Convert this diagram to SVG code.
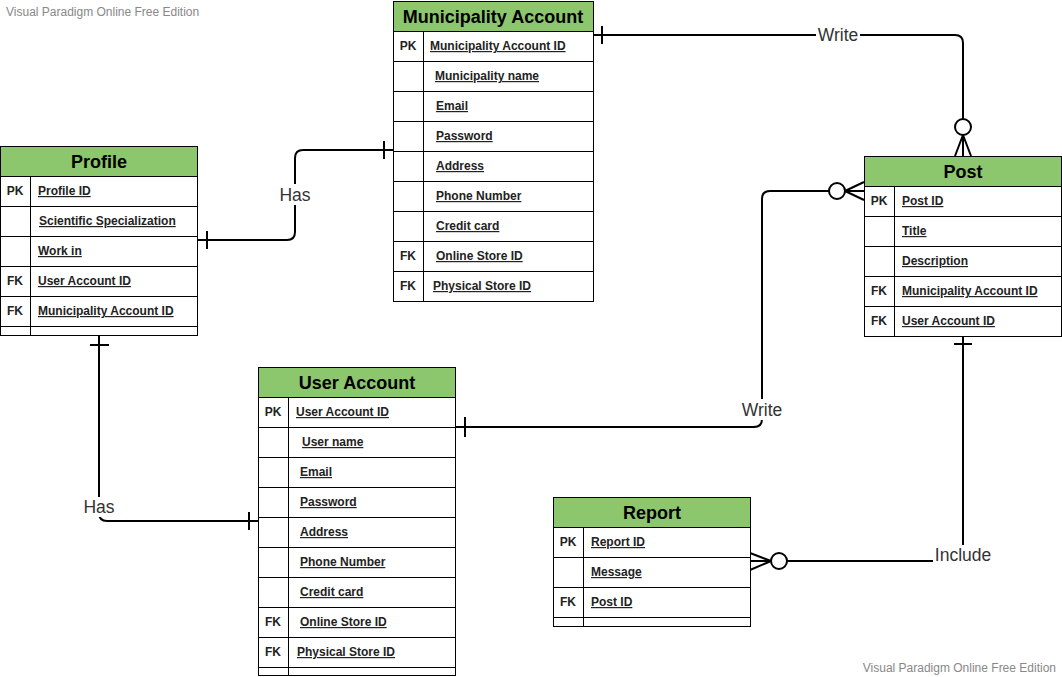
<svg xmlns="http://www.w3.org/2000/svg" width="1062" height="677" viewBox="0 0 1062 677">
<style>
.box{fill:#fff;stroke:#000;stroke-width:1}
.hdr{fill:#8CC66D;stroke:#000;stroke-width:1}
.ln{stroke:#000;stroke-width:1;fill:none}
.ttl{font-family:"Liberation Sans",Arial,sans-serif;font-size:18px;font-weight:bold;fill:#000;text-anchor:middle}
.key{font-family:"Liberation Sans",Arial,sans-serif;font-size:12px;font-weight:bold;fill:#222;text-anchor:middle}
.at{font-family:"Liberation Sans",Arial,sans-serif;font-size:12px;font-weight:bold;fill:#222;text-decoration:underline}
.con{stroke:#000;stroke-width:2;fill:none}
.lbl{font-family:"Liberation Sans",Arial,sans-serif;font-size:17.5px;fill:#333;text-anchor:middle}
.lbg{fill:#fff}
.wm{font-family:"Liberation Sans",Arial,sans-serif;font-size:12px;fill:#888}
</style>
<rect x="0" y="0" width="1062" height="677" fill="#fff"/>
<text class="wm" x="6" y="16">Visual Paradigm Online Free Edition</text>
<text class="wm" x="1056" y="672" text-anchor="end">Visual Paradigm Online Free Edition</text>

<g id="connectors">
  <!-- Profile - Municipality (Has) -->
  <path class="con" d="M197,240 H287 Q295,240 295,232 V158 Q295,150 303,150 H393"/>
  <path class="con" d="M207,231 V249 M384,141 V159"/>
  <rect class="lbg" x="278" y="184" width="35" height="21"/>
  <text class="lbl" x="295" y="201">Has</text>
  <!-- Profile - User (Has) -->
  <path class="con" d="M99,335 V513 Q99,521 107,521 H258"/>
  <path class="con" d="M90,345 H109 M249,512 V530"/>
  <rect class="lbg" x="81" y="497" width="37" height="20"/>
  <text class="lbl" x="99" y="513">Has</text>
  <!-- User - Post (Write) -->
  <path class="con" d="M455,427 H754 Q762,427 762,419 V199 Q762,191 770,191 H829"/>
  <circle class="con" cx="837" cy="191" r="8"/>
  <path class="con" d="M845,191 H864 M845,191 L864,182 M845,191 L864,200"/>
  <path class="con" d="M465,417 V437"/>
  <rect class="lbg" x="739" y="399" width="46" height="21"/>
  <text class="lbl" x="762" y="416">Write</text>
  <!-- Municipality - Post (Write) -->
  <path class="con" d="M593,35 H955 Q963,35 963,43 V119"/>
  <circle class="con" cx="963" cy="127" r="8"/>
  <path class="con" d="M963,135 V156 M963,135 L955,156 M963,135 L971,156"/>
  <path class="con" d="M602,26 V44"/>
  <rect class="lbg" x="816" y="25" width="44" height="20"/>
  <text class="lbl" x="838" y="41">Write</text>
  <!-- Post - Report (Include) -->
  <path class="con" d="M963,336 V561 H787"/>
  <circle class="con" cx="779" cy="561" r="8"/>
  <path class="con" d="M771,561 H750 M771,561 L750,553 M771,561 L750,570"/>
  <path class="con" d="M954,344 H972"/>
  <rect class="lbg" x="933" y="545" width="61" height="20"/>
  <text class="lbl" x="963" y="561">Include</text>
</g>

<g id="profile">
  <rect class="box" x="0.5" y="146.5" width="197" height="189"/>
  <rect class="hdr" x="0.5" y="146.5" width="197" height="30"/>
  <path class="ln" d="M0.5,206.5 H197.5 M0.5,236.5 H197.5 M0.5,266.5 H197.5 M0.5,296.5 H197.5 M0.5,326.5 H197.5 M30.5,176.5 V335.5"/>
  <text class="ttl" x="99" y="168">Profile</text>
  <text class="key" x="15" y="195">PK</text>
  <text class="at" x="38" y="195">Profile ID</text>
  <text class="at" x="39" y="225">Scientific Specialization</text>
  <text class="at" x="38" y="255">Work in</text>
  <text class="key" x="15" y="285">FK</text>
  <text class="at" x="38" y="285">User Account ID</text>
  <text class="key" x="15" y="315">FK</text>
  <text class="at" x="38" y="315">Municipality Account ID</text>
</g>

<g id="municipality-account">
  <rect class="box" x="393.5" y="1.5" width="200" height="300"/>
  <rect class="hdr" x="393.5" y="1.5" width="200" height="30"/>
  <path class="ln" d="M393.5,61.5 H593.5 M393.5,91.5 H593.5 M393.5,121.5 H593.5 M393.5,151.5 H593.5 M393.5,181.5 H593.5 M393.5,211.5 H593.5 M393.5,241.5 H593.5 M393.5,271.5 H593.5 M423.5,31.5 V301.5"/>
  <text class="ttl" x="493" y="23">Municipality Account</text>
  <text class="key" x="408" y="50">PK</text>
  <text class="at" x="430" y="50">Municipality Account ID</text>
  <text class="at" x="435" y="80">Municipality name</text>
  <text class="at" x="436" y="110">Email</text>
  <text class="at" x="436" y="140">Password</text>
  <text class="at" x="436" y="170">Address</text>
  <text class="at" x="436" y="200">Phone Number</text>
  <text class="at" x="436" y="230">Credit card</text>
  <text class="key" x="408" y="260">FK</text>
  <text class="at" x="436" y="260">Online Store ID</text>
  <text class="key" x="408" y="290">FK</text>
  <text class="at" x="433" y="290">Physical Store ID</text>
</g>

<g id="post">
  <rect class="box" x="864.5" y="156.5" width="197" height="180"/>
  <rect class="hdr" x="864.5" y="156.5" width="197" height="30"/>
  <path class="ln" d="M864.5,216.5 H1061.5 M864.5,246.5 H1061.5 M864.5,276.5 H1061.5 M864.5,306.5 H1061.5 M894.5,186.5 V336.5"/>
  <text class="ttl" x="963" y="178">Post</text>
  <text class="key" x="879" y="205">PK</text>
  <text class="at" x="902" y="205">Post ID</text>
  <text class="at" x="902" y="235">Title</text>
  <text class="at" x="902" y="265">Description</text>
  <text class="key" x="879" y="295">FK</text>
  <text class="at" x="902" y="295">Municipality Account ID</text>
  <text class="key" x="879" y="325">FK</text>
  <text class="at" x="902" y="325">User Account ID</text>
</g>

<g id="user-account">
  <rect class="box" x="258.5" y="367.5" width="197" height="308"/>
  <rect class="hdr" x="258.5" y="367.5" width="197" height="30"/>
  <path class="ln" d="M258.5,427.5 H455.5 M258.5,457.5 H455.5 M258.5,487.5 H455.5 M258.5,517.5 H455.5 M258.5,547.5 H455.5 M258.5,577.5 H455.5 M258.5,607.5 H455.5 M258.5,637.5 H455.5 M258.5,667.5 H455.5 M288.5,397.5 V675.5"/>
  <text class="ttl" x="357" y="389">User Account</text>
  <text class="key" x="273" y="416">PK</text>
  <text class="at" x="296" y="416">User Account ID</text>
  <text class="at" x="302" y="446">User name</text>
  <text class="at" x="300" y="476">Email</text>
  <text class="at" x="300" y="506">Password</text>
  <text class="at" x="300" y="536">Address</text>
  <text class="at" x="300" y="566">Phone Number</text>
  <text class="at" x="300" y="596">Credit card</text>
  <text class="key" x="273" y="626">FK</text>
  <text class="at" x="300" y="626">Online Store ID</text>
  <text class="key" x="273" y="656">FK</text>
  <text class="at" x="297" y="656">Physical Store ID</text>
</g>

<g id="report">
  <rect class="box" x="553.5" y="497.5" width="197" height="129"/>
  <rect class="hdr" x="553.5" y="497.5" width="197" height="30"/>
  <path class="ln" d="M553.5,557.5 H750.5 M553.5,587.5 H750.5 M553.5,617.5 H750.5 M583.5,527.5 V626.5"/>
  <text class="ttl" x="652" y="519">Report</text>
  <text class="key" x="568" y="546">PK</text>
  <text class="at" x="591" y="546">Report ID</text>
  <text class="at" x="591" y="576">Message</text>
  <text class="key" x="568" y="606">FK</text>
  <text class="at" x="591" y="606">Post ID</text>
</g>
</svg>
